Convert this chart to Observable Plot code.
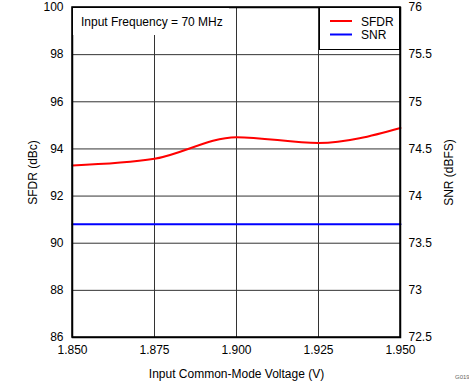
<!DOCTYPE html>
<html>
<head>
<meta charset="utf-8">
<script src="https://cdn.jsdelivr.net/npm/d3@7"></script>
<script src="https://cdn.jsdelivr.net/npm/@observablehq/plot@0.6"></script>
<style>
  html, body { margin: 0; padding: 0; background: #fff; }
  svg { display: block; }
</style>
</head>
<body>
<div id="chart"></div>
<script>
const voltages = [1.850, 1.875, 1.900, 1.925, 1.950];
const sfdr = [93.30, 93.58, 94.50, 94.25, 94.89];
const snr = [73.70, 73.70, 73.70, 73.70, 73.70];
const xTicks = [1.850, 1.875, 1.900, 1.925, 1.950];
const sfdrTicks = [86, 88, 90, 92, 94, 96, 98, 100];
const snrTicks = [72.5, 73, 73.5, 74, 74.5, 75, 75.5, 76];
const seriesNames = ["SFDR", "SNR"];
const seriesColors = ["#ff0000", "#0000ff"];
const annotation = "Input Frequency = 70 MHz";

// map SNR onto the SFDR (left) scale: 72.5..76 -> 86..100
const snrToLeft = v => 86 + (v - 72.5) * 4;

const sfdrData = voltages.map((x, i) => ({x, y: sfdr[i]}));
const snrData = voltages.map((x, i) => ({x, y: snrToLeft(snr[i])}));

const W = 469, H = 382;
const plot = Plot.plot({
  width: W,
  height: H,
  marginLeft: 72,
  marginRight: 69,
  marginTop: 7,
  marginBottom: 45,
  style: {fontFamily: "'Liberation Sans', Arial, sans-serif", fontSize: "12px", background: "#fff", color: "#000"},
  x: {domain: [1.85, 1.95]},
  y: {domain: [86, 100]},
  marks: [
    Plot.gridX(xTicks.slice(1, -1), {stroke: "#333", strokeOpacity: 1, strokeWidth: 1}),
    Plot.gridY(sfdrTicks.slice(1, -1), {stroke: "#333", strokeOpacity: 1, strokeWidth: 1}),
    Plot.axisX({ticks: xTicks, tickFormat: d3.format(".3f"), tickSize: 0, tickPadding: 8,
      label: "Input Common-Mode Voltage (V)", labelAnchor: "center", labelArrow: "none", labelOffset: 40, fontSize: 12}),
    Plot.axisY({ticks: sfdrTicks, tickFormat: d => String(d), tickSize: 0, tickPadding: 9,
      label: "SFDR (dBc)", labelAnchor: "center", labelArrow: "none", labelOffset: 44, fontSize: 12}),
    Plot.axisY({anchor: "right", ticks: sfdrTicks, tickFormat: (d, i) => String(snrTicks[i]), tickSize: 0, tickPadding: 8,
      label: "SNR (dBFS)", labelAnchor: "center", labelArrow: "none", labelOffset: 52, fontSize: 12}),
    Plot.line(snrData, {x: "x", y: "y", stroke: seriesColors[1], strokeWidth: 2}),
    Plot.line(sfdrData, {x: "x", y: "y", stroke: seriesColors[0], strokeWidth: 2, curve: "monotone-x"}),
    Plot.frame({stroke: "#000", strokeWidth: 1.5})
  ]
});

const svg = d3.select(plot);
// annotation box (white background hiding the grid)
const ann = svg.append("g").attr("text-anchor", "start");
ann.append("rect").attr("x", 73).attr("y", 8).attr("width", 156).attr("height", 27).attr("fill", "#fff");
ann.append("text").attr("x", 81).attr("y", 26).attr("font-size", 12).attr("fill", "#000").text(annotation);

// legend
const lg = svg.append("g").attr("text-anchor", "start");
lg.append("rect").attr("x", 319.5).attr("y", 7.5).attr("width", 80).attr("height", 42)
  .attr("fill", "#fff").attr("stroke", "#000").attr("stroke-width", 1);
seriesNames.forEach((name, i) => {
  const yy = 21 + i * 13.5;
  lg.append("line").attr("x1", 330).attr("x2", 352).attr("y1", yy).attr("y2", yy)
    .attr("stroke", seriesColors[i]).attr("stroke-width", 2);
  lg.append("text").attr("x", 361).attr("y", yy + 4.5).attr("font-size", 12).attr("fill", "#000").text(name);
});
// redraw frame edge on top
svg.append("rect").attr("x", 72).attr("y", 7).attr("width", W - 72 - 69).attr("height", H - 7 - 45)
  .attr("fill", "none").attr("stroke", "#000").attr("stroke-width", 1.5);

svg.append("text").attr("x", 455).attr("y", 379).attr("text-anchor", "start").attr("font-size", 6).attr("fill", "#666").text("G019");

document.getElementById("chart").appendChild(plot);
</script>
</body>
</html>
